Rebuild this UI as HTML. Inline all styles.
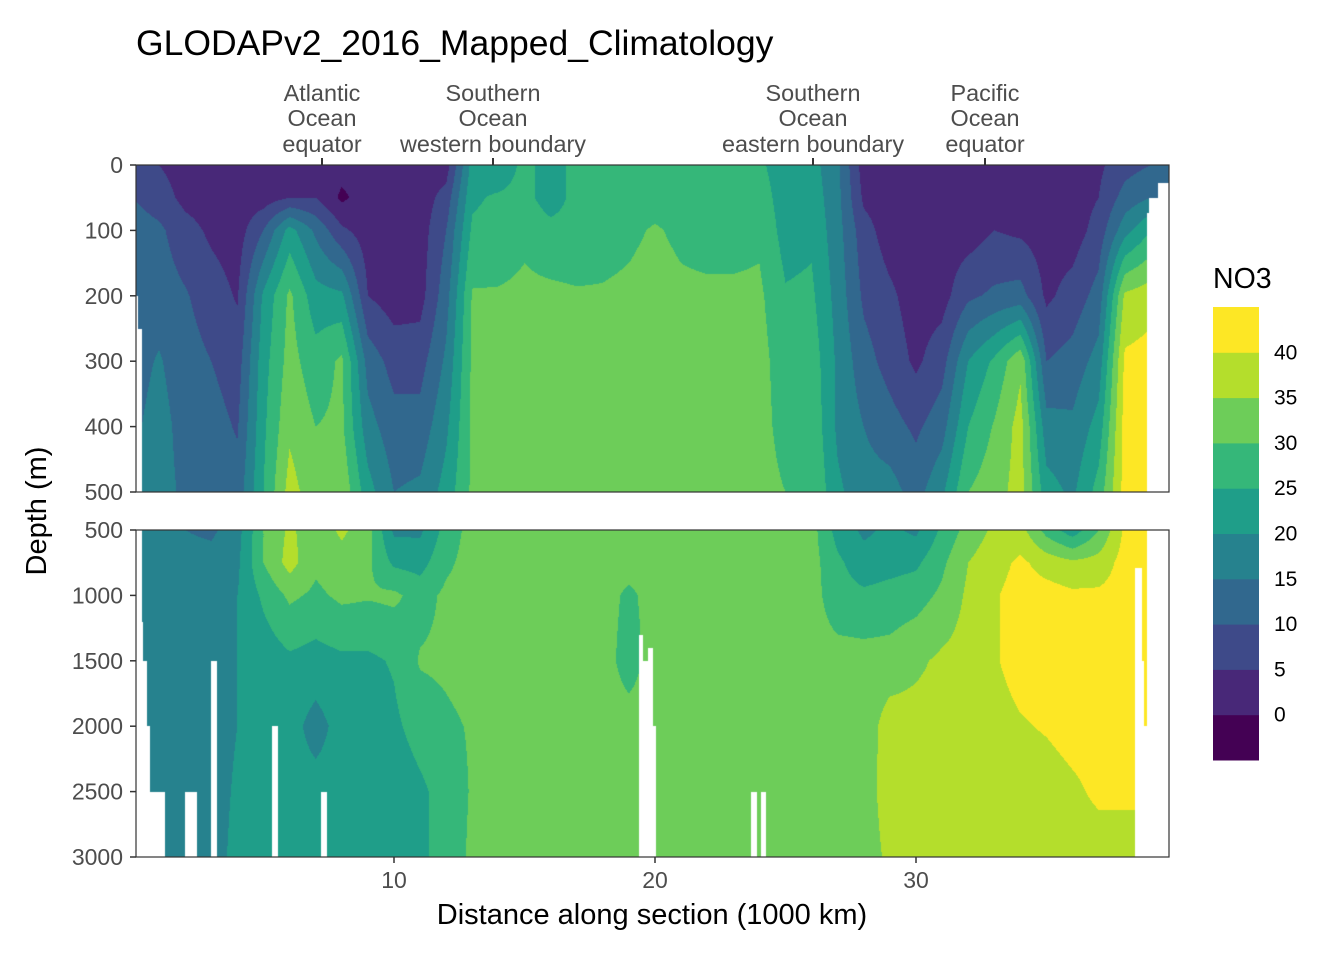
<!DOCTYPE html>
<html><head><meta charset="utf-8">
<style>
body{margin:0;background:#fff;width:1344px;height:960px;overflow:hidden;position:relative;font-family:"Liberation Sans",sans-serif}
canvas{position:absolute}
svg{position:absolute;left:0;top:0}
</style></head>
<body>
<canvas id="top" width="1033" height="327" style="left:136px;top:165px"></canvas>
<canvas id="bot" width="1033" height="327" style="left:136px;top:530px"></canvas>
<svg id="ov" width="1344" height="960">
<text x="136" y="55" font-size="35.5" fill="#000">GLODAPv2_2016_Mapped_Climatology</text>
<g font-size="23.4" fill="#4d4d4d" text-anchor="middle">
<text x="322" y="101">Atlantic</text><text x="322" y="126">Ocean</text><text x="322" y="152">equator</text>
<text x="493" y="101">Southern</text><text x="493" y="126">Ocean</text><text x="493" y="152">western boundary</text>
<text x="813" y="101">Southern</text><text x="813" y="126">Ocean</text><text x="813" y="152">eastern boundary</text>
<text x="985" y="101">Pacific</text><text x="985" y="126">Ocean</text><text x="985" y="152">equator</text>
</g>
<g stroke="#333" stroke-width="2">
<line x1="322" y1="158" x2="322" y2="165"/><line x1="493" y1="158" x2="493" y2="165"/><line x1="813" y1="158" x2="813" y2="165"/><line x1="985" y1="158" x2="985" y2="165"/>
</g>
<rect x="136" y="165" width="1033" height="327" fill="none" stroke="#333" stroke-width="1.2"/>
<rect x="136" y="530" width="1033" height="327" fill="none" stroke="#333" stroke-width="1.2"/>
<g id="axes"></g>
<text x="652" y="924" font-size="29" text-anchor="middle" fill="#000">Distance along section (1000 km)</text>
<text transform="translate(46,511) rotate(-90)" font-size="29" text-anchor="middle" fill="#000">Depth (m)</text>
<text x="1213" y="288" font-size="28.5" fill="#000">NO3</text>
<g id="legend"></g>
</svg>
<script>
const colors=["#440154","#482878","#3E4A89","#31688E","#26828E","#1F9E89","#35B779","#6DCD59","#B4DE2C","#FDE725"];
const breaks=[0,5,10,15,20,25,30,35,40];
const xs=[0,1,2,3,4,5,6,7,8,9,10,11,12,13,14,15,16,17,18,19,20,21,22,23,24,25,26,27,28,29,30,31,32,33,34,35,36,37,38,39,40];
const topDepths=[0,50,100,200,300,400,500];
const botDepths=[500,750,1000,1500,2000,2500,3000];
const top0=[7.5,5,2.5,2,2,2.5,2.5,2.5,2,2,2,2,2.5,22,20,27,22,27,27,27,27,27,27,27,26,22,22,16,2.5,2,2,2,2,2,2.5,2.5,2.5,4,8,10,10];
const top50=[10,7.5,3.5,2.5,2,2.5,5,5,-1,2.5,2,2.2,7,24,26,27,22,27,27,28,28,28,27.5,27.5,27.5,22.5,23,16.5,4,2.2,2,2,2.2,3.5,3,2.5,2.5,5,12,15,15];
const top100=[12.5,11,7,4,2.5,10,22,14,6,2.5,2,2.5,10,26,27,29,27,27,28,29,30.5,29,28,28,29,23,24,17,7,2.5,2,2.5,2.5,5,4,2.5,2.5,7,18,25,25];
const top200=[12.5,12.5,10.5,7.5,4.5,21,31,22,21,5,2.5,3,13,30.5,30.5,31,31,30.5,30.5,31,32,31,31,31,31,25.5,26,18,9,6,2.5,3,9,11,12,4,7,12,36,38,38];
const top300=[13,15.5,12,10,7.5,23,32,27,31,13,8,8,16,31,32,32,32,32,32,32,32,32,32,34,32,27,28,19,12,8,4,8,20,26,34,10,12,17,41,42,42];
const top400=[14,17,13,12,9.5,24,34,30,31,17,12,12,19,31,32,32,32,32,32,32,32,32,32,32,32,28,29,19,15,12,9,13,25,30.5,37,17,16,22,42,42,42];
const top500=[15,17,14,13,12,25,37,32,34,22,15,16,22,31,32,32,32,32,32,32,32,32,32,32,32,30,30,21,17,17,13,19,30,33,37,22,19,27,42,42,42];
const bot500=[17,17,15,14,18,30,36,32,36,32,19,19,27,32,32,32,32,32,32,32,32,32,32,32,32,32,32,23,19,21,19,26,32,36,37,28,22,30,41,42,42];
const bot750=[17,17,17,17,19,30,37,31,33,31,24,23,29,32,32,32,32,32,32,32,32,32,32,32,32,32,32,26,22,23,24,29,35,38,41,38,36,37,42,42,42];
const bot1000=[17,17,17,17,20,26,31,29,31,30.5,31,28,31,32,32,32,32,32,32,29,32,32,32,32,32,32,32,27,26,27,28,31,36,39.5,42,42,41,41,42,42,42];
const bot1500=[17,17,17,17,20,22,24,23,24,24,25.5,30.5,31,32,32,32,32,32,32,28,32,32,32,32,32,32,32,32,32,32,34,36,37,39.5,42,42,42,42,42,42,42];
const bot2000=[17,17,17,17,20,22,22,18,22,22,24,27,29,30.5,32,32,32,32,32,32,32,32,32,32,32,32,32,32,32,37.5,37,37,37,38,39.5,40.5,42,42,42,42,42];
const bot2500=[17,17,17,17,21,22,22,22,22,22,22,24,27,30.5,32,32,32,32,32,32,32,32,32,32,32,32,32,32,32,38,37,37,37,37,37,37.5,39,41,41,41,41];
const bot3000=[17,17,17,17,22,22,22,22,22,22,22,24,27,31,32,32,32,32,32,32,32,32,32,32,32,32,32,32,32,36.3,37,37,37,37,37,37,37,37.5,37.5,37.5,37.5];
const topGaps=[[0.11,0.19,200,500],[0.11,0.34,250,500],[38.84,39.8,74,500],[38.93,39.8,51,500],[39.27,39.8,28,500]];
const botGaps=[[0.11,0.34,500,3000],[0.34,0.4,1200,3000],[0.4,0.54,1500,3000],[0.54,0.65,2000,3000],[0.65,1.23,2500,3000],[1.99,2.45,2500,3000],[2.99,3.22,1500,3000],[5.33,5.56,2000,3000],[7.2,7.43,2500,3000],[19.4,19.55,1300,3000],[19.55,19.75,1500,3000],[19.75,19.92,1400,3000],[19.92,20.05,2000,3000],[23.68,23.9,2500,3000],[24.06,24.25,2500,3000],[38.39,39.8,2500,3000],[38.39,38.65,793,3000],[38.65,38.72,1500,3000],[38.72,38.84,2000,3000],[38.84,39.8,500,3000]];
const xTicks=[10,20,30];
const topTicks=[0,100,200,300,400,500];
const botTicks=[500,1000,1500,2000,2500,3000];
const legendLabels=[40,35,30,25,20,15,10,5,0];

const PX0=133, PXU=26.1;
function xScale(v){return PX0+PXU*v;}
function yTop(d){return 165+(d-0)*327/500;}
function yBot(d){return 530+(d-500)*327/2500;}
function hex(c){return [parseInt(c.slice(1,3),16),parseInt(c.slice(3,5),16),parseInt(c.slice(5,7),16)];}
const rgb=colors.map(hex);
function binIdx(v){let i=0;while(i<breaks.length&&v>=breaks[i])i++;return i;}

function drawPanel(id,depths,rows,yScale,gaps){
  const cv=document.getElementById(id),ctx=cv.getContext('2d');
  const W=cv.width,H=cv.height,img=ctx.createImageData(W,H);
  const d0=depths[0],d1=depths[depths.length-1];
  for(let py=0;py<H;py++){
    const d=d0+(py+0.5)/H*(d1-d0);
    let k=0;while(k<depths.length-2&&d>depths[k+1])k++;
    const fy=Math.max(0,Math.min(1,(d-depths[k])/(depths[k+1]-depths[k])));
    const r0=rows[k],r1=rows[k+1];
    for(let px=0;px<W;px++){
      const x=(136+px+0.5-PX0)/PXU;
      let i=Math.max(0,Math.min(xs.length-2,Math.floor(x)));
      const fx=Math.max(0,Math.min(1,x-xs[i]));
      const v=(r0[i]*(1-fx)+r0[i+1]*fx)*(1-fy)+(r1[i]*(1-fx)+r1[i+1]*fx)*fy;
      const c=rgb[binIdx(v)],o=(py*W+px)*4;
      img.data[o]=c[0];img.data[o+1]=c[1];img.data[o+2]=c[2];img.data[o+3]=255;
    }
  }
  ctx.putImageData(img,0,0);
  ctx.fillStyle='#fff';
  const top=yScale(d0);
  gaps.forEach(g=>{
    const x1=xScale(g[0])-136,x2=xScale(g[1])-136,y1=yScale(g[2])-top,y2=yScale(g[3])-top;
    ctx.fillRect(Math.round(x1),Math.round(y1),Math.round(x2)-Math.round(x1),Math.round(y2)-Math.round(y1));
  });
}
drawPanel('top',topDepths,[top0,top50,top100,top200,top300,top400,top500],yTop,topGaps);
drawPanel('bot',botDepths,[bot500,bot750,bot1000,bot1500,bot2000,bot2500,bot3000],yBot,botGaps);

const NS="http://www.w3.org/2000/svg";
const axes=document.getElementById('axes');
function mk(tag,attrs,parent,txt){const e=document.createElementNS(NS,tag);for(const k in attrs)e.setAttribute(k,attrs[k]);if(txt!==undefined)e.textContent=txt;parent.appendChild(e);return e;}
topTicks.forEach(t=>{
  const y=yTop(t);
  const l=mk('line',{x1:130,x2:136,y1:y,y2:y,stroke:'#333','stroke-width':1.5},axes);
  
  
  const tx=mk('text',{x:123,y:y+8,'font-size':23,fill:'#4d4d4d','text-anchor':'end'},axes,String(t));
  
  
});
botTicks.forEach(t=>{
  const y=yBot(t);
  const l=mk('line',{x1:130,x2:136,y1:y,y2:y,stroke:'#333','stroke-width':1.5},axes);
  
  
  const tx=mk('text',{x:123,y:y+8,'font-size':23,fill:'#4d4d4d','text-anchor':'end'},axes,String(t));
  
  
});
xTicks.forEach(t=>{
  const x=xScale(t);
  const l=mk('line',{x1:x,x2:x,y1:857,y2:863,stroke:'#333','stroke-width':1.5},axes);
  
  
  const tx=mk('text',{x:x,y:888,'font-size':23,fill:'#4d4d4d','text-anchor':'middle'},axes,String(t));
  
  
});
const leg=document.getElementById('legend');
const LX=1213,LW=46,LTOP=307,LH=45.3;
for(let i=0;i<colors.length;i++){
  const r=mk('rect',{x:LX,y:LTOP+(colors.length-1-i)*LH,width:LW,height:LH+0.5,fill:colors[i]},leg);
  
  
}
legendLabels.forEach((v,i)=>{
  const y=LTOP+(i+1)*LH;
  const tx=mk('text',{x:1274,y:y+7,'font-size':21,fill:'#000'},leg,String(v));
  
  
});
</script>
</body></html>
